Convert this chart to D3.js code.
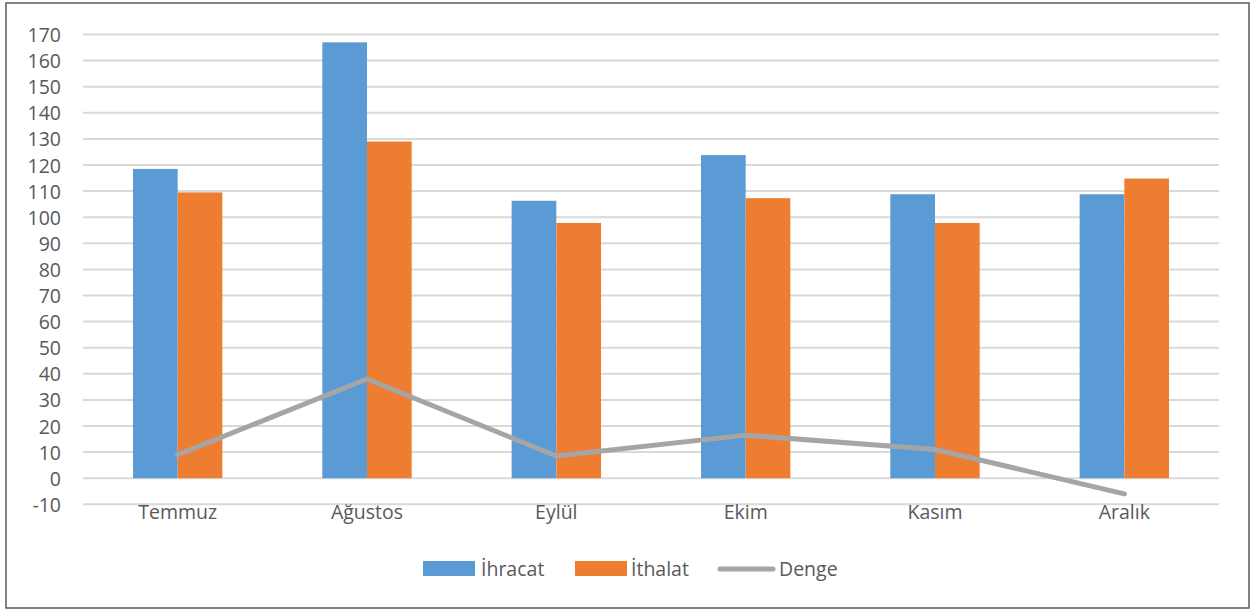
<!DOCTYPE html>
<html><head><meta charset="utf-8">
<script src="https://cdn.jsdelivr.net/npm/d3@7"></script>
<style>body{margin:0;background:#fff;} svg{display:block;}</style>
</head><body>
<svg id="c" width="1255" height="610"></svg>
<script>
const categories = ["Temmuz","Ağustos","Eylül","Ekim","Kasım","Aralık"];
const ihracat = [118.5, 167, 106.3, 123.8, 108.8, 108.8];
const ithalat = [109.5, 129, 97.8, 107.3, 97.8, 114.8];
const denge = [9, 38, 8.5, 16.5, 11, -6];
const yTicks = [-10,0,10,20,30,40,50,60,70,80,90,100,110,120,130,140,150,160,170];
const seriesNames = ["İhracat","İthalat","Denge"];
const colors = {"İhracat":"#5b9bd5","İthalat":"#ed7d31","Denge":"#a5a5a5"};

const svg = d3.select("#c");
const font = "'Open Sans', Lato, sans-serif";
const fs = 19.5;
svg.append("rect").attr("x",6).attr("y",3).attr("width",1243).attr("height",605)
  .attr("fill","#fff").attr("stroke","#595959").attr("stroke-width",1.5);

const L=83, R=1219;
const y = d3.scaleLinear().domain([-10,170]).range([504.3,34.5]);
const x = d3.scaleBand().domain(categories).range([L,R]).paddingInner(0.528).paddingOuter(0.264);
const xs = d3.scaleBand().domain(["İhracat","İthalat"]).range([0,x.bandwidth()]);

// gridlines
svg.append("g").selectAll("line").data(yTicks).join("line")
  .attr("x1",L).attr("x2",R).attr("y1",d=>y(d)).attr("y2",d=>y(d))
  .attr("stroke","#d9d9d9").attr("stroke-width",2);

// y axis labels
const yAxis = d3.axisLeft(y).tickValues(yTicks).tickSize(0).tickPadding(0).tickFormat(d=>String(d));
const ga = svg.append("g").attr("transform","translate(61,0)").call(yAxis);
ga.select(".domain").remove();
ga.selectAll("text").attr("font-family",font).attr("font-size",fs).attr("fill","#595959").attr("dy","0.36em");

// bars
const grp = svg.append("g").selectAll("g").data(categories).join("g")
  .attr("transform",d=>`translate(${x(d)},0)`);
grp.append("rect").attr("x",xs("İhracat")).attr("width",xs.bandwidth())
  .attr("y",(d,i)=>y(ihracat[i])).attr("height",(d,i)=>y(0)-y(ihracat[i])).attr("fill",colors["İhracat"]);
grp.append("rect").attr("x",xs("İthalat")).attr("width",xs.bandwidth())
  .attr("y",(d,i)=>y(ithalat[i])).attr("height",(d,i)=>y(0)-y(ithalat[i])).attr("fill",colors["İthalat"]);

// line
const line = d3.line().x((d,i)=>x(categories[i])+x.bandwidth()/2).y(d=>y(d));
svg.append("path").datum(denge).attr("d",line).attr("fill","none")
  .attr("stroke",colors["Denge"]).attr("stroke-width",5).attr("stroke-linecap","round").attr("stroke-linejoin","round");

// x labels
svg.append("g").selectAll("text").data(categories).join("text")
  .attr("x",d=>x(d)+x.bandwidth()/2).attr("y",519).attr("text-anchor","middle")
  .attr("font-family",font).attr("font-size",fs).attr("fill","#595959").text(d=>d);

// legend
const lg = svg.append("g");
const legItems = [
  {name:seriesNames[0], sx:423, tx:481, type:"rect"},
  {name:seriesNames[1], sx:575, tx:631, type:"rect"},
  {name:seriesNames[2], sx:718, tx:779, type:"line"}
];
legItems.forEach(it=>{
  if(it.type==="rect"){
    lg.append("rect").attr("x",it.sx).attr("y",561).attr("width",52).attr("height",15).attr("fill",colors[it.name]);
  } else {
    lg.append("line").attr("x1",it.sx+2).attr("x2",it.sx+55).attr("y1",569).attr("y2",569)
      .attr("stroke",colors[it.name]).attr("stroke-width",5).attr("stroke-linecap","round");
  }
  lg.append("text").attr("x",it.tx).attr("y",576).attr("font-family",font).attr("font-size",fs)
    .attr("fill","#595959").text(it.name);
});
</script>
</body></html>
